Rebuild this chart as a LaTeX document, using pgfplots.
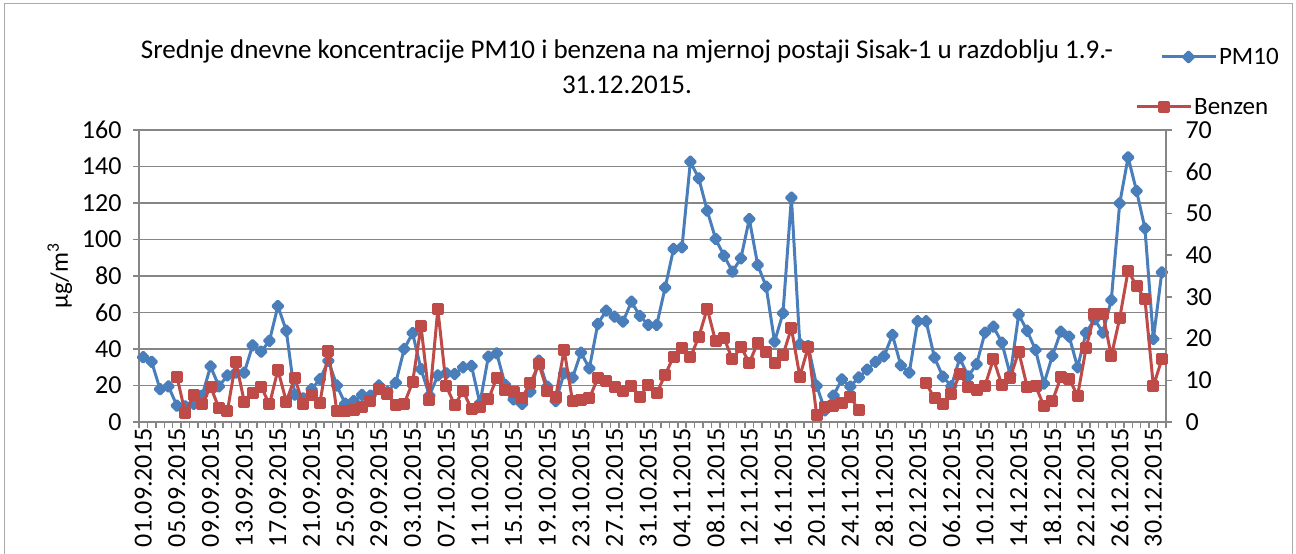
\documentclass[border=0pt]{standalone}
\usepackage{fontspec}
\setmainfont{Carlito}
\usepackage{pgfplots}
\usepackage{pgfplotstable}
\pgfplotsset{compat=1.18}
\definecolor{pmblue}{RGB}{74,126,187}
\definecolor{bzred}{RGB}{190,75,72}
\definecolor{axgray}{RGB}{134,134,134}

\pgfplotstableread{
i pm bz
0 35.5 nan
1 33 nan
2 18 nan
3 19.5 nan
4 9 10.9
5 8.5 2.1
6 10 6.5
7 14.5 4.2
8 30.5 8.5
9 19.5 3.3
10 25.5 2.6
11 27 14.5
12 27 4.9
13 42 6.9
14 38.5 8.5
15 44.5 4.2
16 63.5 12.5
17 50 4.9
18 15 10.6
19 13 4.2
20 18 6.5
21 23.5 4.6
22 33.5 17
23 20 2.6
24 10 2.6
25 11.5 2.8
26 14.8 3.6
27 14.5 5
28 20 7.8
29 16.5 6.7
30 21.5 4
31 40 4.4
32 48.7 9.5
33 29 23
34 14.5 5.3
35 25.5 27
36 26.7 8.6
37 26.3 4.1
38 30 7.4
39 30.7 3.1
40 10.2 3.7
41 35.8 5.4
42 37.6 10.6
43 20.3 7.7
44 12.4 7.3
45 9.9 5.8
46 16.6 9.3
47 33.6 13.9
48 19.4 7.5
49 11.5 5.9
50 26.7 17.3
51 24.3 5
52 38 5.3
53 29.4 5.7
54 53.7 10.5
55 61 9.9
56 57.7 8.5
57 55 7.5
58 65.9 8.7
59 58.1 6.1
60 53.2 8.9
61 53.2 6.9
62 73.6 11.3
63 94.8 15.7
64 95.7 17.8
65 142.6 15.5
66 133.5 20.4
67 115.8 27.2
68 100.3 19.3
69 91.1 20.1
70 82.4 15
71 89.7 18
72 111.2 14.2
73 86 19
74 74.2 16.9
75 44 14.2
76 59.6 16.1
77 122.9 22.5
78 42.7 10.9
79 41.6 18
80 19.8 1.7
81 6.4 3.6
82 14.5 3.9
83 23.4 4.5
84 19.4 6.1
85 24.4 2.8
86 28.7 nan
87 33 nan
88 36 nan
89 47.7 nan
90 31 nan
91 27 nan
92 55.2 nan
93 55.2 9.3
94 35.3 5.7
95 24.8 4.3
96 19.6 6.6
97 35 11.5
98 25 8.3
99 31.7 7.6
100 49 8.7
101 52.2 15.1
102 43.5 8.9
103 25.8 10.6
104 58.9 16.9
105 50 8.5
106 39.5 8.7
107 21 3.8
108 36.2 5
109 49.5 10.7
110 46.8 10.3
111 30 6.3
112 48.8 17.7
113 56.3 25.9
114 49 26
115 66.8 15.8
116 119.8 24.9
117 145 36.3
118 126.6 32.6
119 106.1 29.4
120 45.5 8.6
121 82 15
}\data

\pgfplotsset{
  common/.style={
    at={(139pt,132pt)}, anchor=south west, scale only axis,
    width=1027pt, height=292pt,
    xmin=0, xmax=122,
    axis line style={axgray, line width=1.5pt},
    every tick/.style={axgray, line width=1.5pt},
    tick align=outside, major tick length=6pt,
    /pgf/number format/assume math mode=true,
    ticklabel style={font=\fontsize{26}{30}\selectfont},
    legend style={draw=none, fill=none, inner sep=0pt, font=\fontsize{25}{28}\selectfont},
    legend image code/.code={\draw[mark repeat=2,mark phase=2] plot coordinates {(0pt,0pt) (27pt,0pt) (54pt,0pt)};},
  }
}

\begin{document}
\begin{tikzpicture}
\useasboundingbox (0pt,0pt) rectangle (1296pt,554pt);
\draw[axgray!70, line width=1pt] (4pt,0pt) -- (4pt,550pt) -- (1292pt,550pt) -- (1292pt,0pt);
\node[font=\fontsize{27}{35}\selectfont, align=center] at (627pt,487pt)
  {Srednje dnevne koncentracije PM10 i benzena na mjernoj postaji Sisak-1 u razdoblju 1.9.-\\31.12.2015.};
\begin{axis}[common,
  ymin=0, ymax=160, ytick={0,20,...,160},
  yticklabel style={xshift=-8pt},
  axis y line*=left, axis x line*=bottom,
  ymajorgrids, grid style={axgray, line width=1.5pt},
  xtick={0,1,...,122}, xticklabels={},
  extra x ticks={0.5,4.5,...,120.5},
  extra x tick style={major tick length=0pt, grid=none,
    tick label style={rotate=90, anchor=east, yshift=0pt, xshift=-3pt, font=\fontsize{26}{28}\selectfont}},
  extra x tick labels={01.09.2015,05.09.2015,09.09.2015,13.09.2015,17.09.2015,21.09.2015,25.09.2015,29.09.2015,03.10.2015,07.10.2015,11.10.2015,15.10.2015,19.10.2015,23.10.2015,27.10.2015,31.10.2015,04.11.2015,08.11.2015,12.11.2015,16.11.2015,20.11.2015,24.11.2015,28.11.2015,02.12.2015,06.12.2015,10.12.2015,14.12.2015,18.12.2015,22.12.2015,26.12.2015,30.12.2015},
  ylabel={µg/m\textsuperscript{3}},
  ylabel style={at={(axis description cs:-0.077,0.5)}, anchor=center, font=\fontsize{25}{28}\selectfont},
  legend style={at={(axis description cs:0.994,1.25)}, anchor=west},
]
\addplot[pmblue, line width=3pt, line join=round, mark=square*, mark size=3.5pt, mark options={rotate=45, solid, fill=pmblue}]
  table[x expr=\thisrow{i}+0.5, y=pm]{\data};
\addlegendentry{PM10}
\end{axis}
\begin{axis}[common,
  ymin=0, ymax=70, ytick={0,10,...,70},
  yticklabel style={xshift=10pt},
  axis y line*=right, axis x line=none,
  legend style={at={(axis description cs:0.9698,1.079)}, anchor=west},
]
\addplot[bzred, line width=3pt, line join=round, mark=square*, mark size=4.5pt, mark options={solid, fill=bzred}, unbounded coords=jump]
  table[x expr=\thisrow{i}+0.5, y=bz]{\data};
\addlegendentry{Benzen}
\end{axis}
\end{tikzpicture}
\end{document}
